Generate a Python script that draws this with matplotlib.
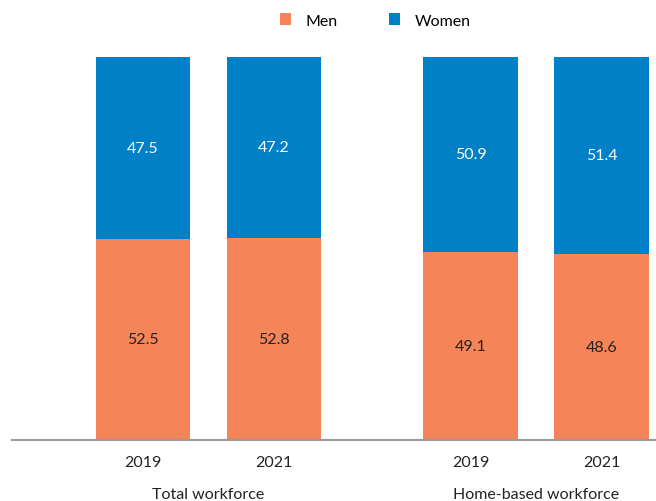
import numpy as np
import matplotlib
matplotlib.use("Agg")
import matplotlib.pyplot as plt

plt.rcParams['font.family'] = ['Lato', 'DejaVu Sans']

years = ['2019', '2021', '2019', '2021']
groups = ['Total workforce', 'Home-based workforce']
men = [52.5, 52.8, 49.1, 48.6]
women = [47.5, 47.2, 50.9, 51.4]

orange = '#F58558'
blue = '#0080C6'

x = np.array([0, 1, 2.5, 3.5])

fig = plt.figure(figsize=(6.56, 5.02), dpi=100)
ax = fig.add_axes([12 / 656, 61 / 502, 644 / 656, 383 / 502])

ax.bar(x, men, width=0.72, color=orange, label='Men')
ax.bar(x, women, width=0.72, bottom=men, color=blue, label='Women')

fs = 11.5
for xi, m, w in zip(x, men, women):
    ax.text(xi, m / 2, f'{m:.1f}', ha='center', va='center', fontsize=fs, color='#222222')
    ax.text(xi, m + w / 2, f'{w:.1f}', ha='center', va='center', fontsize=fs, color='white')

ax.set_xlim(-1.0, 3.916)
ax.set_ylim(0, 100)
ax.set_xticks(x)
ax.set_xticklabels(years, fontsize=fs, color='#222222')
ax.tick_params(axis='x', length=0, pad=11)
ax.set_yticks([])
for s in ['top', 'right', 'left']:
    ax.spines[s].set_visible(False)
ax.spines['bottom'].set_color('#9a9a9a')
ax.spines['bottom'].set_linewidth(1.5)

# group labels
for gx, g in zip([0.5, 3.0], groups):
    ax.text(gx, -14.0, g, ha='center', va='center', fontsize=fs, color='#222222')

fig.legend(loc='center', bbox_to_anchor=(0.572, 0.957), ncol=2, frameon=False,
           fontsize=fs, handlelength=0.7, handleheight=0.7, columnspacing=3.2,
           handletextpad=0.9)

fig.savefig('out.png', dpi=100)
